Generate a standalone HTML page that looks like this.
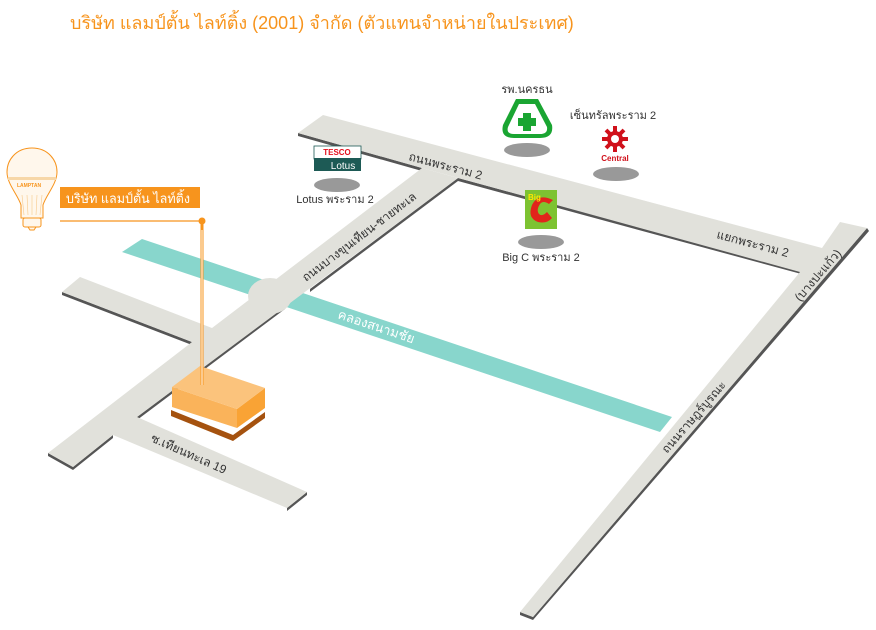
<!DOCTYPE html>
<html><head><meta charset="utf-8"><style>
html,body{margin:0;padding:0;background:#fff;}
svg{display:block;}
text{font-family:"Liberation Sans","Noto Sans CJK SC",sans-serif;}
</style></head><body>
<svg width="876" height="630" viewBox="0 0 876 630" xmlns="http://www.w3.org/2000/svg">
<text x="70" y="29" font-size="18" fill="#f7941d">บริษัท แลมป์ตั้น ไลท์ติ้ง (2001) จำกัด (ตัวแทนจำหน่ายในประเทศ)</text>

<!-- canal -->
<polygon points="122,252 142,239 672,417 660,432" fill="#88d6cc"/>

<!-- dark edges (shadows) -->
<g fill="#555">
<polygon points="298,133 422,168 422,171 298,136"/>
<polygon points="458,178 805,272 805,275 458,181"/>
<polygon points="867,228 533,617 533,620 869,231"/>
<polygon points="520,612 533,617 533,620 520,615"/>
<polygon points="458,178 310,289 310,292 458,181"/>
<polygon points="285,306 137,417 137,420 285,309"/>
<polygon points="307,492 287,508 287,511 307,495"/>
<polygon points="113,435 73,467 73,470 113,438"/>
<polygon points="48,453 73,467 73,470 48,456"/>
<polygon points="62,292 192,342 192,345 62,295"/>
</g>

<!-- roads -->
<g fill="#e1e1db">
<polygon points="298,133 323,115 822,248 840,222 867,228 533,617 520,612 800,272 422,168"/>
<polygon points="422,168 458,178 137,417 307,492 287,508 113,435 73,467 48,453 192,342 62,292 80,277 212,328"/>
<ellipse cx="270" cy="296" rx="22" ry="18"/>
</g>

<!-- road labels -->
<g font-size="12" fill="#333">
<text transform="translate(408,160) rotate(15)">ถนนพระราม 2</text>
<text transform="translate(716,238) rotate(15)">แยกพระราม 2</text>
<text transform="translate(800,302) rotate(-49)">(บางปะแก้ว)</text>
<text transform="translate(667,454) rotate(-49)">ถนนราษฎร์บูรณะ</text>
<text transform="translate(306,282) rotate(-37)">ถนนบางขุนเทียน-ชายทะเล</text>
<text transform="translate(150,441) rotate(24)">ซ.เทียนทะเล 19</text>
</g>
<text transform="translate(337,318) rotate(18.5)" font-size="13" fill="#fff">คลองสนามชัย</text>

<!-- building -->
<polygon points="171,410 233,435 265,412 265,418 233,441 171,416" fill="#a5520f"/>
<polygon points="172,387 237,409 237,428 172,407" fill="#fab35a"/>
<polygon points="237,409 265,388 265,408 237,428" fill="#f9a335"/>
<polygon points="172,387 200,366 265,388 237,409" fill="#fbc37c"/>

<!-- pin -->
<line x1="60" y1="221" x2="202" y2="221" stroke="#f7941d" stroke-width="1.2"/>
<line x1="202" y1="221" x2="202" y2="385" stroke="#f7941d" stroke-width="3"/>
<line x1="202" y1="230" x2="202" y2="385" stroke="#fff" stroke-width="1"/>
<circle cx="202" cy="221" r="3.5" fill="#f7941d"/>
<rect x="60" y="187" width="140" height="21" fill="#f7941d"/>
<text x="66" y="203" font-size="13" fill="#fff" textLength="124" lengthAdjust="spacingAndGlyphs">บริษัท แลมป์ตั้น ไลท์ติ้ง</text>

<!-- bulb -->
<g stroke="#f7941d" stroke-width="1" fill="#fff7ec">
<path d="M32,148 C16,148 7,160 7,172 C7,184 18,195 21,205 L21,218 L43,218 L43,205 C46,195 57,184 57,172 C57,160 48,148 32,148 Z"/>
<rect x="23" y="218" width="18" height="9" rx="2"/>
<path d="M28,227 L36,227 L34,230 L30,230 Z"/>
</g>
<rect x="8" y="177" width="48" height="3" fill="#f7d7a8"/>
<text x="17" y="187" font-size="5" font-weight="bold" fill="#f7941d">LAMPTAN</text>
<g stroke="#f7c98a" stroke-width="0.6">
<line x1="22" y1="195" x2="24" y2="215"/><line x1="27" y1="195" x2="28" y2="215"/><line x1="32" y1="195" x2="32" y2="215"/><line x1="37" y1="195" x2="36" y2="215"/><line x1="42" y1="195" x2="40" y2="215"/>
</g>

<!-- landmarks -->
<g fill="#999">
<ellipse cx="337" cy="185" rx="23" ry="7"/>
<ellipse cx="527" cy="150" rx="23" ry="7"/>
<ellipse cx="616" cy="174" rx="23" ry="7"/>
<ellipse cx="541" cy="242" rx="23" ry="7"/>
</g>
<!-- tesco -->
<rect x="314" y="146" width="47" height="13" fill="#fff" stroke="#1d5a55" stroke-width="0.8"/>
<text x="337" y="155" font-size="8" font-weight="bold" fill="#e3101d" text-anchor="middle">TESCO</text>
<rect x="314" y="158" width="47" height="13" fill="#1d5a55"/>
<text x="343" y="169" font-size="10" fill="#fff" text-anchor="middle" font-family="Liberation Serif,serif">Lotus</text>
<text x="335" y="203" font-size="11" fill="#333" text-anchor="middle">Lotus พระราม 2</text>
<!-- hospital -->
<text x="527" y="93" font-size="11" fill="#333" text-anchor="middle">รพ.นครธน</text>
<path d="M516,99 L538,99 L552,125 Q554,138 540,138 L514,138 Q500,138 503,125 Z" fill="#1aa532"/>
<path d="M519,104 L535,104 L547,127 Q548,134 540,134 L514,134 Q506,134 508,127 Z" fill="#fff"/>
<rect x="523" y="113" width="8" height="18" fill="#1aa532"/>
<rect x="518" y="118" width="18" height="8" fill="#1aa532"/>
<!-- central -->
<text x="613" y="119" font-size="11" fill="#333" text-anchor="middle">เซ็นทรัลพระราม 2</text>
<g stroke="#d0111b" stroke-width="4">
<line x1="615" y1="126" x2="615" y2="152"/>
<line x1="602" y1="139" x2="628" y2="139"/>
<line x1="606" y1="130" x2="624" y2="148"/>
<line x1="624" y1="130" x2="606" y2="148"/>
</g>
<circle cx="615" cy="139" r="8" fill="#d0111b"/>
<circle cx="615" cy="139" r="4" fill="#fff"/>
<text x="615" y="161" font-size="8" font-weight="bold" fill="#d0111b" text-anchor="middle" font-family="Liberation Serif,serif">Central</text>
<!-- big c -->
<rect x="525" y="190" width="32" height="39" fill="#7dc331"/>
<path d="M553,200 Q538,193 532,205 Q527,218 538,222 Q547,224 552,218 L547,212 Q542,217 539,214 Q536,210 540,204 Q543,200 549,204 Z" fill="#e1251b"/>
<text x="528" y="200" font-size="8" font-weight="bold" fill="#ffe600">Big</text>
<text x="541" y="261" font-size="11" fill="#333" text-anchor="middle">Big C พระราม 2</text>
</svg>
</body></html>
